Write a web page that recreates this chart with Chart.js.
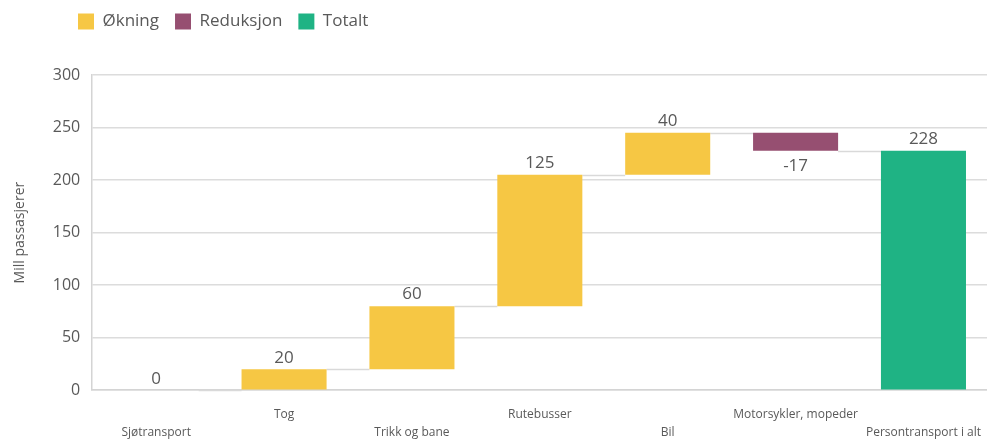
<!DOCTYPE html>
<html>
<head>
<meta charset="utf-8">
<script src="https://cdn.jsdelivr.net/npm/chart.js@4/dist/chart.umd.min.js"></script>
<style>
  html, body { margin: 0; padding: 0; background: #ffffff; overflow: hidden; }
  /* slightly wider than the window: the last category runs to the edge */
  #wrap { width: 997px; height: 441px; }
</style>
</head>
<body>
<div id="wrap"><canvas id="myChart"></canvas></div>
<script>
// Data
var categories = ['Sjøtransport', 'Tog', 'Trikk og bane', 'Rutebusser', 'Bil', 'Motorsykler, mopeder', 'Persontransport i alt'];
var changes = [0, 20, 60, 125, 40, -17];   // contribution of each transport type
var totalValue = 228;                       // last bar, total
var legendNames = ['Økning', 'Reduksjon', 'Totalt'];
var colors = ['#f6c744', '#964f71', '#1fb384'];

// build floating bars [start, end]
var increase = [], decrease = [], total = [], levels = [];
var running = 0;
for (var i = 0; i < changes.length; i++) {
  var start = running;
  running += changes[i];
  levels.push(running);
  increase.push(changes[i] >= 0 ? [start, running] : null);
  decrease.push(changes[i] < 0 ? [start, running] : null);
  total.push(null);
}
increase.push(null);
decrease.push(null);
total.push([0, totalValue]);
levels.push(totalValue);
var labelValues = changes.concat([totalValue]);

Chart.defaults.font.family = '"Open Sans", sans-serif';
Chart.defaults.color = '#595959';

// connectors between bars + value labels
var waterfallPlugin = {
  id: 'waterfall',
  afterLayout: function(chart) {
    // legend sits left of the plot area, above the axis ticks
    chart.legend.left = 62;
    chart.legend.top = -3;
  },
  beforeDatasetsDraw: function(chart) {
    var ctx = chart.ctx;
    var y = chart.scales.y;
    var bars = barElements(chart);
    ctx.save();
    ctx.strokeStyle = '#d9d9d9';
    ctx.lineWidth = 1.5;
    for (var i = 0; i < bars.length - 1; i++) {
      var a = bars[i], b = bars[i + 1];
      var py = Math.round(y.getPixelForValue(levels[i])) + 0.5;
      ctx.beginPath();
      ctx.moveTo(a.x + a.width / 2, py);
      ctx.lineTo(b.x - b.width / 2, py);
      ctx.stroke();
    }
    ctx.restore();
  },
  afterDatasetsDraw: function(chart) {
    var ctx = chart.ctx;
    var bars = barElements(chart);
    ctx.save();
    ctx.font = '17px "Open Sans", sans-serif';
    ctx.fillStyle = '#595959';
    ctx.textAlign = 'center';
    for (var i = 0; i < bars.length; i++) {
      var el = bars[i];
      var top = Math.min(el.y, el.base), bottom = Math.max(el.y, el.base);
      if (labelValues[i] < 0) {
        ctx.textBaseline = 'top';
        ctx.fillText(String(labelValues[i]), el.x, bottom + 7);
      } else {
        ctx.textBaseline = 'bottom';
        ctx.fillText(String(labelValues[i]), el.x, top - 3);
      }
    }
    ctx.restore();
  }
};

function barElements(chart) {
  var out = [];
  for (var i = 0; i < categories.length; i++) {
    for (var d = 0; d < chart.data.datasets.length; d++) {
      if (chart.data.datasets[d].data[i] !== null) {
        out.push(chart.getDatasetMeta(d).data[i].getProps(['x', 'y', 'base', 'width'], true));
        break;
      }
    }
  }
  return out;
}

var chart = new Chart(document.getElementById('myChart'), {
  type: 'bar',
  data: {
    labels: categories,
    datasets: [
      { label: legendNames[0], data: increase, backgroundColor: colors[0] },
      { label: legendNames[1], data: decrease, backgroundColor: colors[1] },
      { label: legendNames[2], data: total, backgroundColor: colors[2] }
    ]
  },
  options: {
    animation: false,
    responsive: true,
    maintainAspectRatio: false,
    events: [],
    datasets: {
      bar: {
        grouped: false,
        categoryPercentage: 1,
        barPercentage: 0.665
      }
    },
    layout: {
      padding: { top: 32, right: 0, left: 12, bottom: -16 }
    },
    scales: {
      x: {
        grid: { display: false, drawTicks: false },
        border: { color: '#d4d4d4', width: 1.5 },
        ticks: {
          autoSkip: false,
          maxRotation: 0,
          padding: 16,
          font: { size: 12, lineHeight: 1.45 },
          color: '#595959',
          // staggered labels
          callback: function(value, index) {
            var label = categories[index];
            return index % 2 === 0 ? ['', label] : label;
          }
        }
      },
      y: {
        min: 0,
        max: 300,
        ticks: { stepSize: 50, padding: 12, font: { size: 16 }, color: '#595959' },
        grid: { color: '#dcdcdc', drawTicks: false, lineWidth: 1.5 },
        border: { color: '#d4d4d4', width: 1.5 },
        title: {
          display: true,
          text: 'Mill passasjerer',
          font: { size: 14 },
          color: '#595959',
          padding: { top: 0, bottom: 12 }
        }
      }
    },
    plugins: {
      legend: {
        position: 'top',
        align: 'start',
        labels: {
          boxWidth: 16,
          boxHeight: 16,
          padding: 16,
          font: { size: 17 },
          color: '#595959'
        }
      },
      tooltip: { enabled: false }
    }
  },
  plugins: [waterfallPlugin]
});
</script>
</body>
</html>
